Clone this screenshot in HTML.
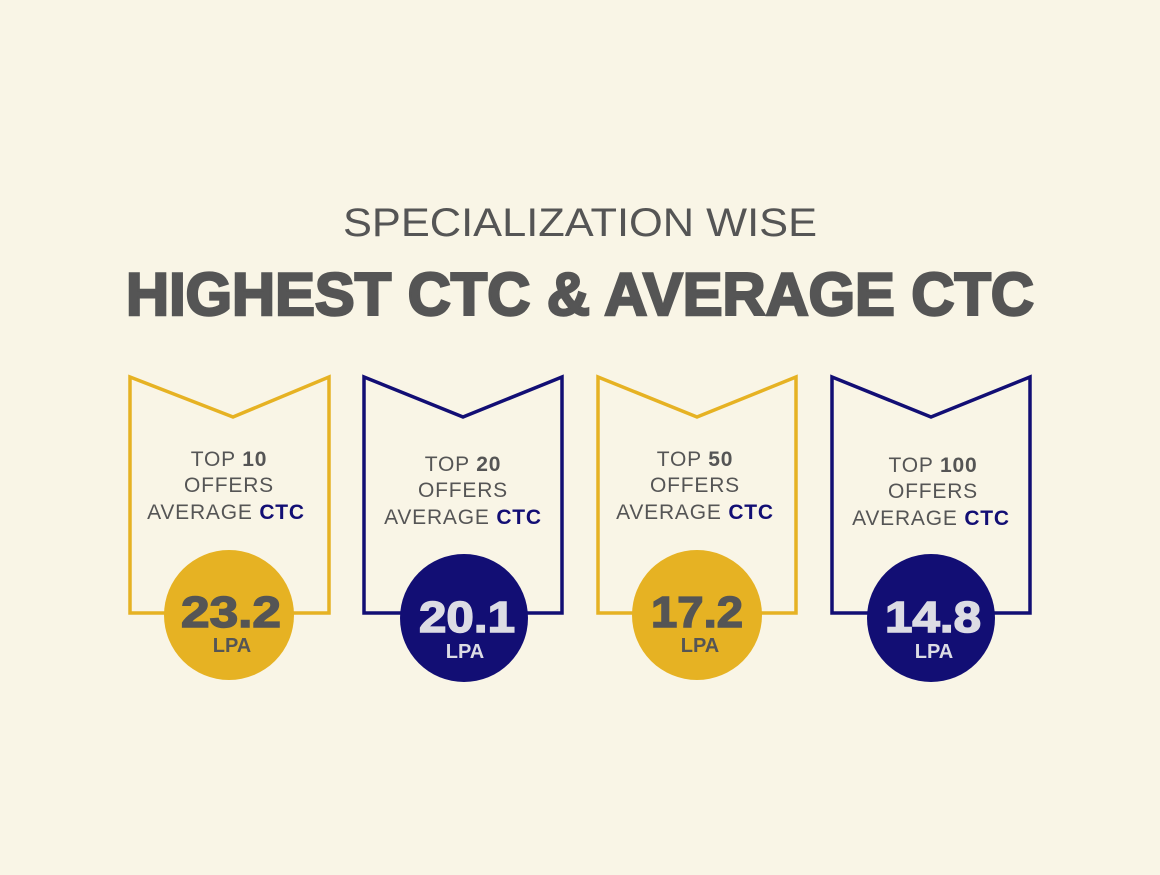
<!DOCTYPE html>
<html><head><meta charset="utf-8"><style>
html,body{margin:0;padding:0;background:#F9F5E6;}
svg{display:block}
text{font-family:"Liberation Sans",sans-serif;}
</style></head><body>
<svg width="1160" height="875" viewBox="0 0 1160 875" xmlns="http://www.w3.org/2000/svg">
<rect width="1160" height="875" fill="#F9F5E6"/>
<text x="580" y="236" text-anchor="middle" font-size="40" fill="#555" textLength="474" lengthAdjust="spacingAndGlyphs">SPECIALIZATION WISE</text>
<text x="580" y="315" text-anchor="middle" font-size="60" font-weight="900" fill="#555" textLength="908" lengthAdjust="spacingAndGlyphs" stroke="#555" stroke-width="2.5">HIGHEST CTC &amp; AVERAGE CTC</text>

<g stroke-width="3.5" fill="none">
<path d="M130 377 L233 417 L329 377 L329 613 L130 613 Z" stroke="#E6B223"/>
<path d="M364 377 L463 417 L562 377 L562 613 L364 613 Z" stroke="#120E74"/>
<path d="M598 377 L697 417 L796 377 L796 613 L598 613 Z" stroke="#E6B223"/>
<path d="M832 377 L931 417 L1030 377 L1030 613 L832 613 Z" stroke="#120E74"/>
</g>
<circle cx="229" cy="615" r="65" fill="#E6B223"/>
<circle cx="464" cy="618" r="64" fill="#120E74"/>
<circle cx="697" cy="615" r="65" fill="#E6B223"/>
<circle cx="931" cy="618" r="64" fill="#120E74"/>

<g font-size="21" fill="#555" text-anchor="middle" letter-spacing="0.8">
<text x="229" y="466">TOP <tspan font-weight="900">10</tspan></text>
<text x="229" y="492">OFFERS</text>
<text x="226" y="519">AVERAGE <tspan font-weight="900" fill="#120E74">CTC</tspan></text>
<text x="463" y="471">TOP <tspan font-weight="900">20</tspan></text>
<text x="463" y="497">OFFERS</text>
<text x="463" y="524">AVERAGE <tspan font-weight="900" fill="#120E74">CTC</tspan></text>
<text x="695" y="466">TOP <tspan font-weight="900">50</tspan></text>
<text x="695" y="492">OFFERS</text>
<text x="695" y="519">AVERAGE <tspan font-weight="900" fill="#120E74">CTC</tspan></text>
<text x="933" y="472">TOP <tspan font-weight="900">100</tspan></text>
<text x="933" y="498">OFFERS</text>
<text x="931" y="525">AVERAGE <tspan font-weight="900" fill="#120E74">CTC</tspan></text>
</g>

<g font-weight="900" text-anchor="middle">
<text x="231" y="627" font-size="44" fill="#555" stroke="#555" stroke-width="1.5" textLength="100" lengthAdjust="spacingAndGlyphs">23.2</text>
<text x="232" y="652" font-size="20" fill="#555">LPA</text>
<text x="467" y="632" font-size="44" fill="#DCDCE4" stroke="#DCDCE4" stroke-width="1.5" textLength="96" lengthAdjust="spacingAndGlyphs">20.1</text>
<text x="465" y="658" font-size="20" fill="#DCDCE4">LPA</text>
<text x="697" y="627" font-size="44" fill="#555" stroke="#555" stroke-width="1.5" textLength="92" lengthAdjust="spacingAndGlyphs">17.2</text>
<text x="700" y="652" font-size="20" fill="#555">LPA</text>
<text x="933" y="632" font-size="44" fill="#DCDCE4" stroke="#DCDCE4" stroke-width="1.5" textLength="96" lengthAdjust="spacingAndGlyphs">14.8</text>
<text x="934" y="658" font-size="20" fill="#DCDCE4">LPA</text>
</g>
</svg>
</body></html>
